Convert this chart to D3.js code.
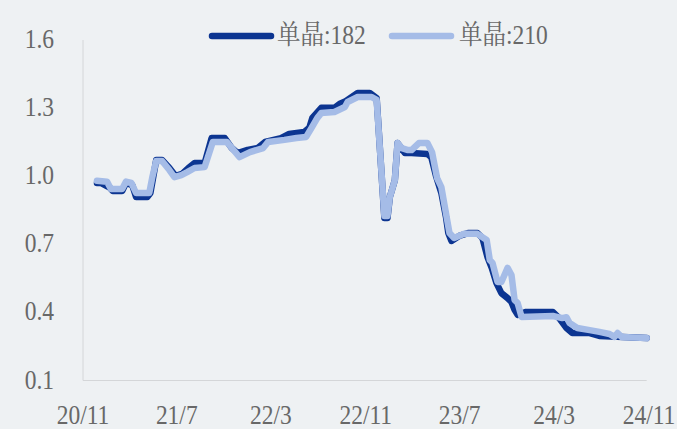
<!DOCTYPE html>
<html>
<head>
<meta charset="utf-8">
<script src="https://cdn.jsdelivr.net/npm/d3@7"></script>
<style>
  html, body { margin: 0; padding: 0; background: #eef1f3; }
  svg { display: block; }
</style>
</head>
<body>
<svg id="chart" width="677" height="429"></svg>
<script>
// Weekly price series, two wafer sizes (yuan per piece)
const seriesNames = ["单晶:182", "单晶:210"];

const dates182 = [
  "2020-12-07","2020-12-17","2021-01-10","2021-01-17","2021-02-10","2021-02-20","2021-03-08","2021-03-18",
  "2021-04-16","2021-04-24","2021-05-09","2021-05-24","2021-06-12","2021-06-28","2021-07-15","2021-07-31",
  "2021-08-16","2021-09-11","2021-09-29","2021-11-02","2021-11-20","2021-12-05","2021-12-31","2022-01-26",
  "2022-02-14","2022-03-27","2022-04-17","2022-05-26","2022-06-08","2022-06-16","2022-07-09","2022-08-12",
  "2022-08-25","2022-09-10","2022-10-11","2022-11-11","2022-11-29","2022-12-19","2022-12-27","2023-01-02",
  "2023-01-15","2023-01-22","2023-02-10","2023-02-27","2023-04-09","2023-04-19","2023-05-02","2023-05-15",
  "2023-05-27","2023-06-02","2023-06-10","2023-06-30","2023-07-25","2023-08-16","2023-08-29","2023-09-11",
  "2023-09-22","2023-10-04","2023-10-17","2023-11-02","2023-11-12","2023-11-20","2023-11-28","2023-12-20",
  "2024-02-27","2024-03-14","2024-04-02","2024-04-17","2024-06-01","2024-06-26","2024-10-26"
];
const values182 = [
  0.970,0.970,0.948,0.935,0.935,0.970,0.961,0.908,
  0.908,0.926,1.071,1.071,1.036,1.001,1.010,1.036,
  1.058,1.058,1.168,1.168,1.124,1.102,1.116,1.124,
  1.151,1.168,1.186,1.195,1.213,1.257,1.301,1.301,
  1.318,1.331,1.367,1.367,1.344,0.816,0.816,0.908,
  0.983,1.146,1.102,1.102,1.098,1.084,0.996,0.926,
  0.820,0.750,0.715,0.737,0.750,0.750,0.728,0.644,
  0.596,0.530,0.485,0.463,0.446,0.411,0.389,0.402,
  0.402,0.375,0.331,0.309,0.309,0.296,0.287
];

const dates210 = [
  "2020-12-07","2021-01-02","2021-01-12","2021-02-10","2021-02-20","2021-03-06","2021-03-18","2021-04-21",
  "2021-04-29","2021-05-09","2021-05-24","2021-06-12","2021-06-25","2021-07-13","2021-07-28","2021-08-16",
  "2021-09-11","2021-10-02","2021-11-07","2021-12-10","2022-01-06","2022-02-09","2022-02-22","2022-04-05",
  "2022-05-06","2022-05-31","2022-06-14","2022-06-29","2022-07-09","2022-08-12","2022-09-08","2022-09-15",
  "2022-10-11","2022-11-16","2022-11-29","2022-12-19","2022-12-27","2023-01-02","2023-01-15","2023-01-22",
  "2023-02-02","2023-02-18","2023-02-27","2023-03-18","2023-04-09","2023-04-21","2023-05-04","2023-05-15",
  "2023-05-30","2023-06-05","2023-06-17","2023-07-13","2023-08-16","2023-09-09","2023-09-17","2023-09-24",
  "2023-10-07","2023-10-17","2023-11-02","2023-11-12","2023-11-20","2023-11-28","2023-12-08","2024-02-27",
  "2024-03-22","2024-04-02","2024-04-10","2024-04-30","2024-06-01","2024-06-26","2024-07-22","2024-08-04",
  "2024-08-12","2024-08-22","2024-10-26"
];
const values210 = [
  0.980,0.976,0.944,0.944,0.976,0.970,0.926,0.926,
  0.996,1.067,1.067,1.027,0.996,1.005,1.018,1.036,
  1.040,1.151,1.151,1.084,1.106,1.124,1.151,1.160,
  1.168,1.173,1.213,1.257,1.278,1.283,1.305,1.327,
  1.349,1.349,1.336,0.825,0.825,0.908,0.983,1.146,
  1.124,1.115,1.115,1.146,1.146,1.106,0.992,0.952,
  0.807,0.750,0.728,0.746,0.746,0.719,0.631,0.618,
  0.534,0.534,0.596,0.565,0.455,0.441,0.380,0.384,
  0.375,0.379,0.353,0.331,0.322,0.314,0.305,0.292,
  0.309,0.292,0.287
];

const xTickDates = ["2020-11-01","2021-07-01","2022-03-01","2022-11-01","2023-07-01","2024-03-01","2024-11-01"];
const xTickLabels = ["20/11","21/7","22/3","22/11","23/7","24/3","24/11"];
const yTickValues = [0.1, 0.4, 0.7, 1.0, 1.3, 1.6];
const yTickLabels = ["0.1","0.4","0.7","1.0","1.3","1.6"];

const colors = ["#0c3591", "#a5bce7"];

const parse = d3.timeParse("%Y-%m-%d");
const svg = d3.select("#chart");

const plotLeft = 83, plotRight = 649, plotTop = 40, plotBottom = 380.5;

const x = d3.scaleTime()
  .domain([parse("2020-11-01"), parse("2024-11-01")])
  .range([plotLeft, plotRight]);
const y = d3.scaleLinear().domain([0.1, 1.6]).range([plotBottom, plotTop]);

const font = "'Liberation Serif', 'Noto Serif CJK SC', 'Noto Sans CJK SC', serif";
const textColor = "#686868";

// axis lines
const lastDate = parse(dates182[dates182.length - 1]);
svg.append("line")
  .attr("x1", plotLeft).attr("x2", plotLeft).attr("y1", plotTop).attr("y2", plotBottom)
  .attr("stroke", "#d4d6d8").attr("stroke-width", 1);
svg.append("line")
  .attr("x1", plotLeft).attr("x2", x(lastDate)).attr("y1", plotBottom).attr("y2", plotBottom)
  .attr("stroke", "#d4d6d8").attr("stroke-width", 1);

// narrow serif labels
function label(g, txt, anchor) {
  g.append("text")
    .attr("transform", "scale(0.87,1)")
    .attr("text-anchor", anchor)
    .attr("font-family", font)
    .attr("font-size", 27)
    .attr("fill", textColor)
    .text(txt);
}

yTickValues.forEach((v, i) => {
  const g = svg.append("g").attr("transform", `translate(54,${y(v) + 8})`);
  label(g, yTickLabels[i], "end");
});

xTickDates.forEach((d, i) => {
  const g = svg.append("g").attr("transform", `translate(${x(parse(d))},424)`);
  label(g, xTickLabels[i], "middle");
});

// lines
const line = d3.line()
  .x(d => x(d.date))
  .y(d => y(d.value))
  .curve(d3.curveLinear);

const data182 = dates182.map((d, i) => ({ date: parse(d), value: values182[i] }));
const data210 = dates210.map((d, i) => ({ date: parse(d), value: values210[i] }));

[data182, data210].forEach((data, i) => {
  svg.append("path")
    .datum(data)
    .attr("d", line)
    .attr("fill", "none")
    .attr("stroke", colors[i])
    .attr("stroke-width", 6.5)
    .attr("stroke-linejoin", "round")
    .attr("stroke-linecap", "round");
});

// legend
const legendItems = [{ x1: 212, x2: 271, tx: 277 }, { x1: 392, x2: 451, tx: 459 }];
legendItems.forEach((it, i) => {
  svg.append("line")
    .attr("x1", it.x1).attr("x2", it.x2).attr("y1", 36).attr("y2", 36)
    .attr("stroke", colors[i]).attr("stroke-width", 6.5)
    .attr("stroke-linecap", "round");
  const g = svg.append("g").attr("transform", `translate(${it.tx},44)`);
  label(g, seriesNames[i], "start");
});
</script>
</body>
</html>
